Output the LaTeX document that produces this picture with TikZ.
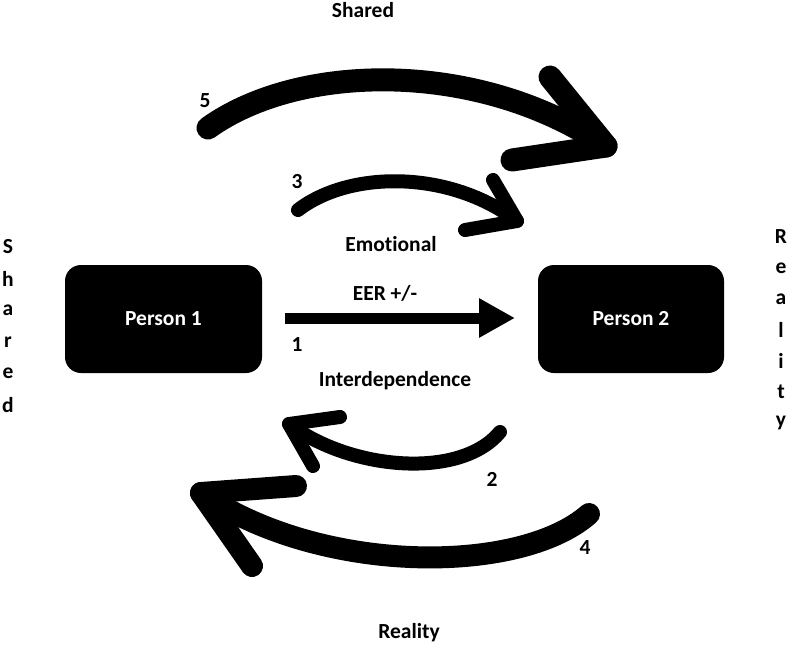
\documentclass[tikz,border=0pt]{standalone}
\usepackage{fontspec}
\setmainfont{Carlito}[Ligatures=NoCommon]
\usetikzlibrary{arrows.meta}
\begin{document}
\begin{tikzpicture}[x=1pt,y=-1pt,
  lbl/.style={font=\bfseries\fontsize{21.5}{24}\selectfont, inner sep=0pt},
  person/.style={fill=black, rounded corners=16pt, minimum width=197pt, minimum height=108pt,
     text=white, font=\bfseries\fontsize{21.5}{24}\selectfont},
  curvearrow/.style={line cap=round, line join=round, draw=black},
  vlbl/.style={lbl}]
\useasboundingbox (0,0) rectangle (787,645);
% persons
\node[person] (p1) at (163.5,319) {Person 1};
\node[person, minimum width=186pt] (p2) at (631,319) {Person 2};
% texts
\node[lbl] (shtop) at (363,10) {Shared};
\node[lbl] (rebot) at (409,633) {Reality};
\node[lbl] (emo) at (391,244) {Emotional};
\node[lbl] (inter) at (395,381) {Interdependence};
\node[lbl] (eer) at (385,293) {EER +/-};
\node[lbl] (n1) at (297,345) {1};
\node[lbl] (n2) at (492,479) {2};
\node[lbl] (n3) at (297,182) {3};
\node[lbl] (n4) at (585,548) {4};
\node[lbl] (n5) at (205,101) {5};
% vertical words
\foreach \c [count=\i from 0] in {S,h,a,r,e,d}
  \node[vlbl] (sl\i) at (8,247+31.6*\i) {\c};
\foreach \c [count=\i from 0] in {R,e,a,l,i,t,y}
  \node[vlbl] (rr\i) at (781,237+31*\i) {\c};
% arrow 1
\coordinate (a1s) at (285,318);
\coordinate (a1e) at (515,318);
\draw[line width=11pt, -{Triangle[length=36pt,width=37pt]}] (a1s) -- (a1e);
% arrow 5
\coordinate (a5s) at (208,128);
\coordinate (a5t) at (606,146);
\coordinate (a5h1) at (550,77);
\coordinate (a5h2) at (512,160);
\draw[curvearrow, line width=23pt] (a5s) .. controls (300,62) and (480,60) .. (a5t);
\draw[curvearrow, line width=23pt] (a5h1) -- (a5t) -- (a5h2);
% arrow 3
\coordinate (a3s) at (298,210);
\coordinate (a3t) at (517,221);
\coordinate (a3h1) at (493,180);
\coordinate (a3h2) at (465,230);
\draw[curvearrow, line width=14pt] (a3s) .. controls (350,170) and (450,170) .. (a3t);
\draw[curvearrow, line width=14pt] (a3h1) -- (a3t) -- (a3h2);
% arrow 2
\coordinate (a2s) at (500,432);
\coordinate (a2t) at (289,424);
\coordinate (a2h1) at (340,417);
\coordinate (a2h2) at (313,466);
\draw[curvearrow, line width=14pt] (a2s) .. controls (460,480) and (350,470) .. (a2t);
\draw[curvearrow, line width=14pt] (a2h1) -- (a2t) -- (a2h2);
% arrow 4
\coordinate (a4s) at (589,514);
\coordinate (a4t) at (201,493);
\coordinate (a4h1) at (296,486);
\coordinate (a4h2) at (252,566);
\draw[curvearrow, line width=22pt] (a4s) .. controls (520,575) and (320,575) .. (a4t);
\draw[curvearrow, line width=22pt] (a4h1) -- (a4t) -- (a4h2);
\end{tikzpicture}
\end{document}
